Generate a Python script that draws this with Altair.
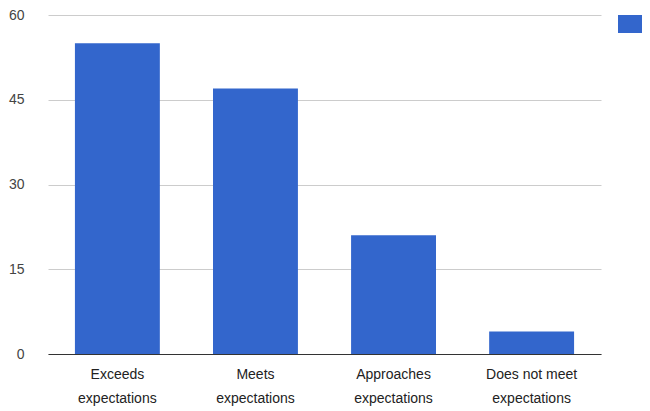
import altair as alt
import pandas as pd

categories = ["Exceeds|expectations", "Meets|expectations", "Approaches|expectations", "Does not meet|expectations"]
values = [55, 47, 21, 4]
series = ["Students"] * 4

df = pd.DataFrame({"category": categories, "value": values, "series": series})

FONT = "Liberation Sans"

chart = alt.Chart(df).mark_bar(color="#3366CC").encode(
    x=alt.X("category:N", sort=categories, title=None,
            scale=alt.Scale(paddingInner=0.385, paddingOuter=0.195),
            axis=alt.Axis(labelAngle=0, labelExpr="split(datum.label, '|')",
                          labelFontSize=14, labelColor="#222222", labelFont=FONT,
                          labelLineHeight=24, labelPadding=13, ticks=False,
                          domainColor="#333333", domainWidth=1, grid=False,
                          labelBaseline="top")),
    y=alt.Y("value:Q", title=None,
            scale=alt.Scale(domain=[0, 60], nice=False),
            axis=alt.Axis(values=[0, 15, 30, 45, 60], labelFontSize=14, labelColor="#444444",
                          labelFont=FONT, ticks=False, domain=False, labelPadding=24,
                          gridColor="#cccccc", gridWidth=1)),
    color=alt.Color("series:N", scale=alt.Scale(range=["#3366CC"]), title=None,
                    legend=alt.Legend(orient="none", legendX=570, legendY=-6,
                                      symbolType="M-1,-0.6H1V0.6H-1Z", symbolSize=900,
                                      symbolStrokeWidth=0, symbolOpacity=1,
                                      labelExpr="''",
                                      labelFontSize=14, labelFont=FONT, labelColor="#222222",
                                      padding=0)),
).properties(
    width=553, height=339,
    autosize=alt.AutoSizeParams(type="none"),
    padding={"left": 40, "top": 7, "right": 41, "bottom": 56},
).configure_view(stroke=None)

chart.save("out.html", embed_options={"renderer": "svg", "actions": False})
